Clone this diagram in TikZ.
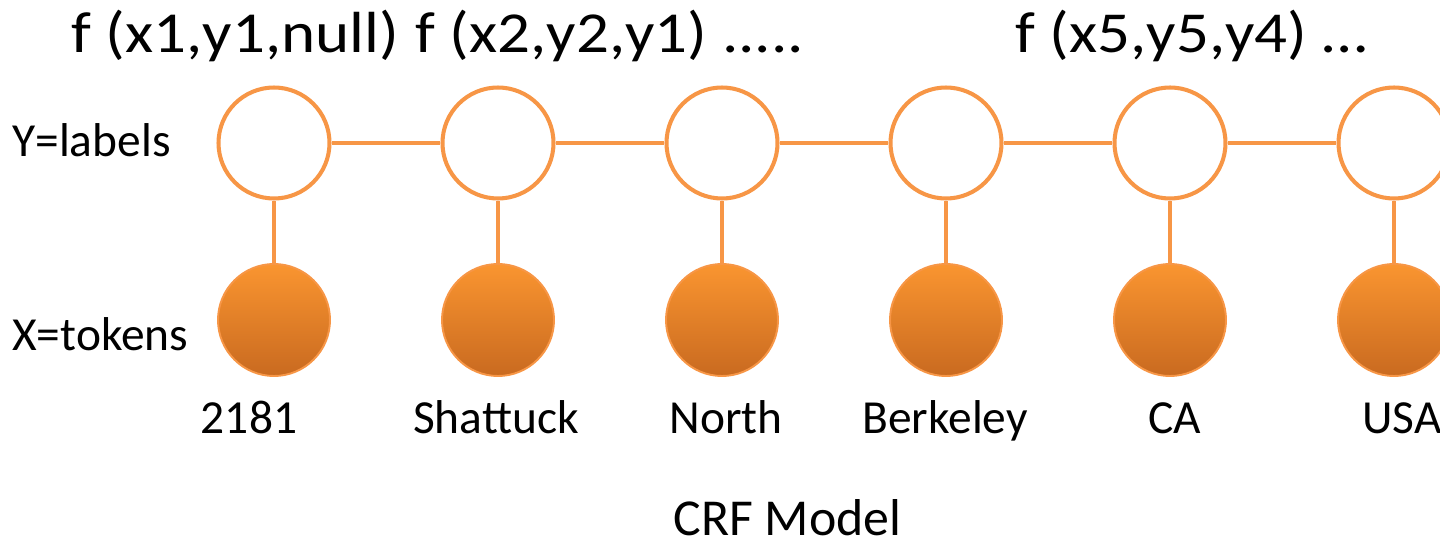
\documentclass[tikz,border=0pt]{standalone}
\usepackage{fontspec}
\setmainfont{Carlito}
\newfontfamily\headfont[FakeStretch=1.12]{Carlito}
\usepackage{xcolor}
\definecolor{crfline}{HTML}{F79646}
\definecolor{crftop}{HTML}{FA9530}
\definecolor{crfbot}{HTML}{C96A20}
\tikzset{
    labelnode/.style={circle, draw=crfline, line width=2.3pt, fill=white, inner sep=0pt, minimum size=2.22cm},
    tokennode/.style={circle, draw=crfline, line width=1.1pt, top color=crftop, bottom color=crfbot, inner sep=0pt, minimum size=2.24cm},
    edge/.style={crfline, line width=2.3pt},
    factortext/.style={anchor=base west, font=\headfont\fontsize{33}{40}\selectfont, inner sep=0pt},
    rowtext/.style={anchor=base west, font=\fontsize{27}{32}\selectfont, inner sep=0pt},
    tokentext/.style={anchor=base, font=\fontsize{27}{32}\selectfont, inner sep=0pt}
}

\begin{document}
\begin{tikzpicture}
        \useasboundingbox (0,0) rectangle (28.8,10.96);

        % label circles
        \node[labelnode] (y1) at (5.48,8.10) {};
        \node[labelnode] (y2) at (9.96,8.10) {};
        \node[labelnode] (y3) at (14.44,8.10) {};
        \node[labelnode] (y4) at (18.92,8.10) {};
        \node[labelnode] (y5) at (23.40,8.10) {};
        \node[labelnode] (y6) at (27.88,8.10) {};

        % token circles
        \node[tokennode] (x1) at (5.48,4.56) {};
        \node[tokennode] (x2) at (9.96,4.56) {};
        \node[tokennode] (x3) at (14.44,4.56) {};
        \node[tokennode] (x4) at (18.92,4.56) {};
        \node[tokennode] (x5) at (23.40,4.56) {};
        \node[tokennode] (x6) at (27.88,4.56) {};

        \draw[edge] (y1) -- (y2);
        \draw[edge] (y2) -- (y3);
        \draw[edge] (y3) -- (y4);
        \draw[edge] (y4) -- (y5);
        \draw[edge] (y5) -- (y6);

        \draw[edge] (y1) -- (x1);
        \draw[edge] (y2) -- (x2);
        \draw[edge] (y3) -- (x3);
        \draw[edge] (y4) -- (x4);
        \draw[edge] (y5) -- (x5);
        \draw[edge] (y6) -- (x6);

        \node[factortext] (f1) at (1.42,9.90) {f (x1,y1,null)};
        \node[factortext] (f2) at (8.30,9.90) {f (x2,y2,y1) .....};
        \node[factortext] (f5) at (20.30,9.90) {f (x5,y5,y4) …};

        \node[rowtext] (ylab) at (0.24,7.82) {Y=labels};
        \node[rowtext] (xlab) at (0.24,3.96) {X=tokens};

        \node[tokentext] (t1) at (4.98,2.30) {2181};
        \node[tokentext] (t2) at (9.92,2.30) {Shattuck};
        \node[tokentext] (t3) at (14.52,2.30) {North};
        \node[tokentext] (t4) at (18.90,2.30) {Berkeley};
        \node[tokentext] (t5) at (23.50,2.30) {CA};
        \node[tokentext, anchor=base west] (t6) at (27.24,2.30) {USA};

        \node[tokentext, font=\fontsize{29.5}{35}\selectfont] (title) at (15.75,0.26) {CRF Model};
    \end{tikzpicture}
\end{document}
